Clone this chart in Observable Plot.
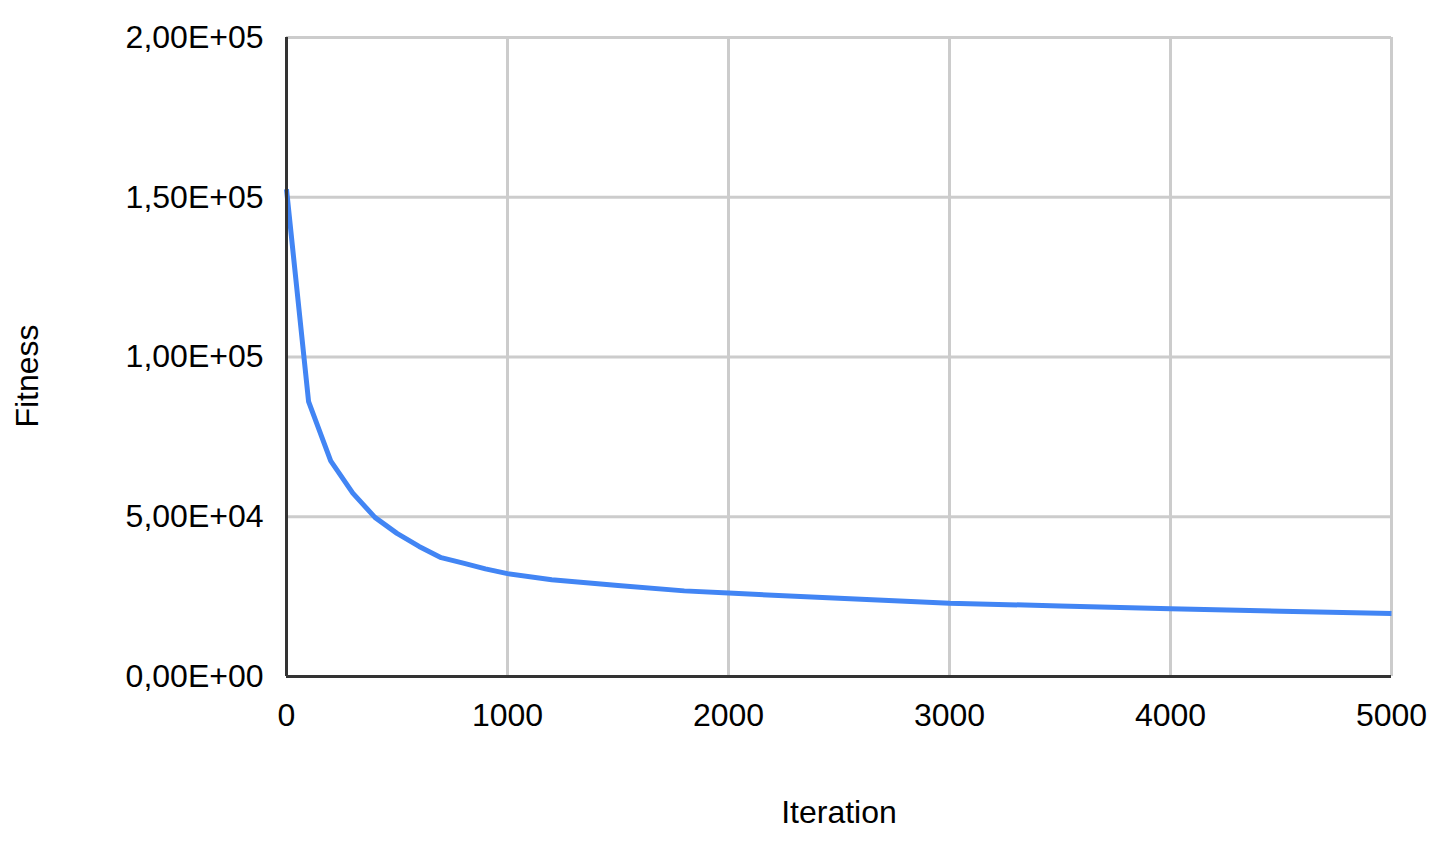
<!DOCTYPE html>
<html>
<head>
<meta charset="utf-8">
<script src="https://cdn.jsdelivr.net/npm/d3@7"></script>
<script src="https://cdn.jsdelivr.net/npm/@observablehq/plot@0.6"></script>
<style>
  html, body { margin: 0; padding: 0; background: #fff; }
  #chart svg { display: block; }
</style>
</head>
<body>
<div id="chart"></div>
<script>
// Data
const iterations = [0, 100, 200, 300, 400, 500, 600, 700, 800, 900, 1000, 1200, 1500, 1800, 2000, 2500, 3000, 3500, 4000, 4500, 5000];
const fitness = [152500, 86000, 67500, 57400, 49800, 44800, 40700, 37200, 35500, 33700, 32200, 30300, 28500, 26800, 26100, 24500, 22900, 22100, 21200, 20400, 19700];

const xTickValues = [0, 1000, 2000, 3000, 4000, 5000];
const xTickLabels = ["0", "1000", "2000", "3000", "4000", "5000"];
const yTickValues = [0, 50000, 100000, 150000, 200000];
const yTickLabels = ["0,00E+00", "5,00E+04", "1,00E+05", "1,50E+05", "2,00E+05"];
const xTitle = "Iteration";
const yTitle = "Fitness";

const data = iterations.map((it, i) => ({iteration: it, fitness: fitness[i]}));

const font = "'Liberation Sans', Arial, sans-serif";
const fs = 32;

const chart = Plot.plot({
  width: 1437,
  height: 841,
  marginLeft: 286,
  marginRight: 46,
  marginTop: 37,
  marginBottom: 165,
  style: {fontFamily: font, fontSize: fs + "px", color: "#000", background: "#fff"},
  x: {domain: [0, 5000]},
  y: {domain: [0, 200000]},
  marks: [
    Plot.gridX(xTickValues, {stroke: "#cccccc", strokeOpacity: 1, strokeWidth: 3}),
    Plot.gridY(yTickValues, {stroke: "#cccccc", strokeOpacity: 1, strokeWidth: 3}),
    Plot.line(data, {x: "iteration", y: "fitness", stroke: "#4285f4", strokeWidth: 5, strokeLinejoin: "round", strokeLinecap: "butt"}),
    Plot.ruleX([0], {stroke: "#333333", strokeWidth: 3}),
    Plot.ruleY([0], {stroke: "#333333", strokeWidth: 3}),
    Plot.axisX(xTickValues, {tickSize: 0, tickPadding: 27, fontSize: fs, fill: "#000", label: null,
      tickFormat: (d) => xTickLabels[xTickValues.indexOf(d)]}),
    Plot.axisY(yTickValues, {tickSize: 0, tickPadding: 23, fontSize: fs, fill: "#000", label: null,
      tickFormat: (d) => yTickLabels[yTickValues.indexOf(d)]}),
    Plot.text([xTitle], {frameAnchor: "bottom", dy: 136, lineAnchor: "middle", textAnchor: "middle", fontSize: fs, fill: "#000"}),
    Plot.text([yTitle], {frameAnchor: "left", dx: -259, dy: 19, rotate: -90, lineAnchor: "middle", textAnchor: "middle", fontSize: fs, fill: "#000"})
  ]
});

document.getElementById("chart").appendChild(chart);
</script>
</body>
</html>
